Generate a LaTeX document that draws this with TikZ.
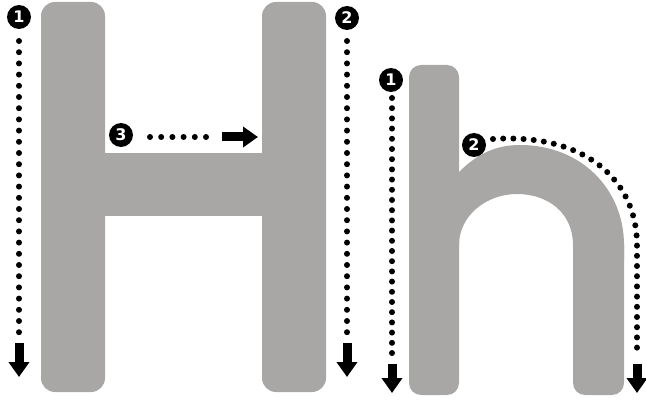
\documentclass[tikz,border=0pt]{standalone}
\usepackage{fontspec}
\setmainfont{Liberation Sans}
\newfontfamily\numfont{DejaVu Sans}
\usetikzlibrary{arrows.meta}
\definecolor{lettergray}{RGB}{168,167,165}
\begin{document}
\begin{tikzpicture}[x=1pt,y=-1pt,
  letter/.style={fill=lettergray, draw=none},
  numcirc/.style={circle, fill=black, text=white, inner sep=0pt, minimum size=24pt,
    font=\numfont\fontsize{16}{16}\selectfont\bfseries},
  dotline/.style={line width=6pt, line cap=round, dash pattern=on 0pt off 11.2pt},
  hdotline/.style={line width=6pt, line cap=round, dash pattern=on 0pt off 10.2pt},
  bigarrow/.style={line width=9pt, -{Triangle[length=15pt,width=20pt]}},
]
\useasboundingbox (0,0) rectangle (646,401);
% ---- letter H ----
\fill[letter, rounded corners=14pt] (41,2) rectangle (105,392);
\fill[letter, rounded corners=14pt] (262,2) rectangle (326,392);
\fill[letter] (100,153) rectangle (267,216);
% ---- letter h ----
\fill[letter, rounded corners=12pt] (409,65) rectangle (459,395);
\fill[letter, rounded corners=12pt] (573,230) rectangle (624,395);
\fill[letter] (455,172) -- (459,172) .. controls (478,153) and (497,145) .. (520,145)
  .. controls (582,145) and (624,190) .. (624,245) -- (624,260) -- (573,260) -- (573,245)
  .. controls (573,213) and (548,194) .. (517,194)
  .. controls (486,194) and (459,216) .. (459,245) -- (455,245) -- cycle;

% ---- H stroke 1 ----
\node[numcirc] (H1) at (19,17) {1};
\coordinate (H1a) at (19,41);
\coordinate (H1b) at (19,334);
\coordinate (H1c) at (19,343);
\coordinate (H1d) at (19,377);
\draw[dotline] (H1a) -- (H1b);
\draw[bigarrow] (H1c) -- (H1d);
% ---- H stroke 2 ----
\node[numcirc] (H2) at (347,18) {2};
\coordinate (H2a) at (347,41);
\coordinate (H2b) at (347,334);
\coordinate (H2c) at (347,343);
\coordinate (H2d) at (347,377);
\draw[dotline] (H2a) -- (H2b);
\draw[bigarrow] (H2c) -- (H2d);
% ---- H stroke 3 ----
\node[numcirc] (H3) at (121,135) {3};
\coordinate (H3a) at (150,137);
\coordinate (H3b) at (213,137);
\coordinate (H3c) at (222,137);
\coordinate (H3d) at (258,137);
\draw[dotline] (H3a) -- (H3b);
\draw[bigarrow] (H3c) -- (H3d);
% ---- h stroke 1 ----
\node[numcirc] (h1) at (391,80) {1};
\coordinate (h1a) at (392,98);
\coordinate (h1b) at (392,357);
\coordinate (h1c) at (392,364);
\coordinate (h1d) at (392,393);
\draw[hdotline] (h1a) -- (h1b);
\draw[bigarrow] (h1c) -- (h1d);
% ---- h stroke 2 ----
\node[numcirc] (h2) at (474,145) {2};
\coordinate (h2a) at (493,139);
\coordinate (h2m) at (637,245);
\coordinate (h2b) at (637,357);
\coordinate (h2c) at (637,364);
\coordinate (h2d) at (637,393);
\draw[hdotline] (h2a) .. controls (585,133) and (637,180) .. (h2m) -- (h2b);
\draw[bigarrow] (h2c) -- (h2d);
\end{tikzpicture}
\end{document}
